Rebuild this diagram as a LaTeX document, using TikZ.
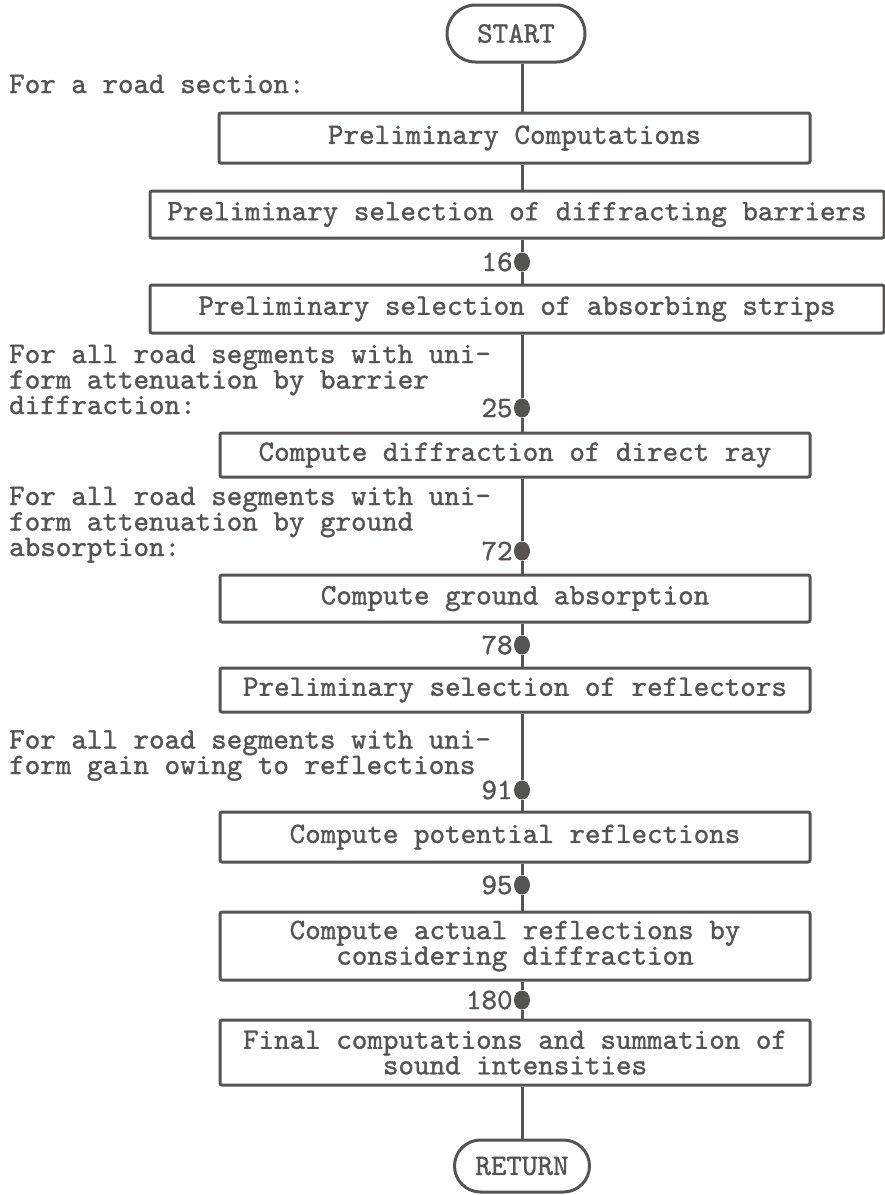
\documentclass[tikz,border=0pt]{standalone}
\usepackage{fontspec}
\newfontfamily\chartfont{lmmono10-regular.otf}[FakeBold=1.2]
\usetikzlibrary{shapes.misc,shapes.geometric}
\definecolor{ink}{RGB}{88,83,83}
\begin{document}
\begin{tikzpicture}[x=1pt,y=-1pt,
  every node/.style={font=\chartfont\fontsize{29.6}{25.5}\selectfont, text=ink, inner sep=0pt},
  box/.style={draw=ink, line width=3pt, rounded corners=2pt, align=center},
  terminal/.style={draw=ink, line width=3pt, rounded rectangle},
  note/.style={anchor=base west, align=left},
  junction/.style={ellipse, fill=ink, minimum width=16, minimum height=19},
  num/.style={anchor=east, xshift=-1pt},
  flow/.style={draw=ink, line width=3pt}]
\useasboundingbox (0,0) rectangle (885,1195);

% spine of the flow chart
\coordinate (spine) at (522,0);

% terminals and process boxes
\node[terminal, minimum width=138, minimum height=57] (start) at (516,33.5) {START};
\node[box, minimum width=591, minimum height=50] (b1) at (514.5,138) {Preliminary Computations};
\node[box, minimum width=734, minimum height=47] (b2) at (517,214.5) {Preliminary selection of diffracting barriers};
\node[box, minimum width=734, minimum height=48] (b3) at (517,309) {Preliminary selection of absorbing strips};
\node[box, minimum width=590, minimum height=44] (b4) at (515,455) {Compute diffraction of direct ray};
\node[box, minimum width=590, minimum height=47] (b5) at (515,598.5) {Compute ground absorption};
\node[box, minimum width=590, minimum height=44] (b6) at (515,690) {Preliminary selection of reflectors};
\node[box, minimum width=590, minimum height=50] (b7) at (515,837) {Compute potential reflections};
\node[box, minimum width=590, minimum height=68] (b8) at (515,946) {Compute actual reflections by\\considering diffraction};
\node[box, minimum width=590, minimum height=65] (b9) at (515,1052.5) {Final computations and summation of\\sound intensities};
\node[terminal, minimum width=135, minimum height=52] (ret) at (522,1166) {RETURN};

% junction points with their labels
\node[junction] (d16) at (522,262) {};
\node[junction] (d25) at (522,408) {};
\node[junction] (d72) at (522,551) {};
\node[junction] (d78) at (522,645) {};
\node[junction] (d91) at (522,790) {};
\node[junction] (d95) at (522,885) {};
\node[junction] (d180) at (522,1000) {};
\node[num] (l16) at (d16.west) {16};
\node[num] (l25) at (d25.west) {25};
\node[num] (l72) at (d72.west) {72};
\node[num] (l78) at (d78.west) {78};
\node[num] (l91) at (d91.west) {91};
\node[num] (l95) at (d95.west) {95};
\node[num] (l180) at (d180.west) {180};

% loop annotations (anchored at the baseline of their last line)
\node[note] (n0) at (9,93) {For a road section:};
\node[note] (n1) at (9,414) {For all road segments with uni-\\form attenuation by barrier\\diffraction:};
\node[note] (n2) at (9,556) {For all road segments with uni-\\form attenuation by ground\\absorption:};
\node[note] (n3) at (9,774) {For all road segments with uni-\\form gain owing to reflections};

% connectors along the spine
\draw[flow] (start.south -| spine) -- (b1.north -| spine);
\draw[flow] (b1.south -| spine) -- (b2.north -| spine);
\draw[flow] (b2.south -| spine) -- (d16) -- (b3.north -| spine);
\draw[flow] (b3.south -| spine) -- (d25) -- (b4.north -| spine);
\draw[flow] (b4.south -| spine) -- (d72) -- (b5.north -| spine);
\draw[flow] (b5.south -| spine) -- (d78) -- (b6.north -| spine);
\draw[flow] (b6.south -| spine) -- (d91) -- (b7.north -| spine);
\draw[flow] (b7.south -| spine) -- (d95) -- (b8.north -| spine);
\draw[flow] (b8.south -| spine) -- (d180) -- (b9.north -| spine);
\draw[flow] (b9.south -| spine) -- (ret.north -| spine);
\end{tikzpicture}
\end{document}
